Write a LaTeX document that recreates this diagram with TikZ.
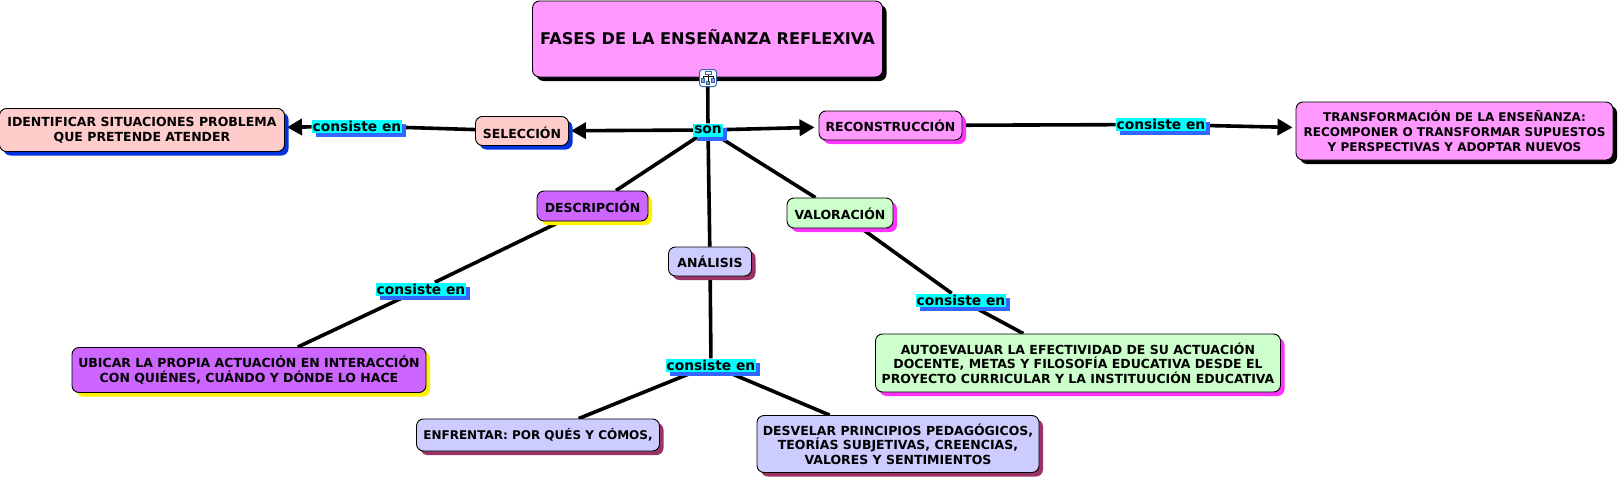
\documentclass[tikz,border=0pt]{standalone}
\usepackage{fontspec}
\setmainfont{DejaVu Sans}
\usetikzlibrary{arrows.meta,shadows,backgrounds}
\definecolor{cpink}{HTML}{FF99FF}
\definecolor{csalmon}{HTML}{FFCCCC}
\definecolor{cpurple}{HTML}{CC66FF}
\definecolor{cgreen}{HTML}{CCFFCC}
\definecolor{clav}{HTML}{CCCCFF}
\definecolor{sblue}{HTML}{0033DD}
\definecolor{smag}{HTML}{FF33FF}
\definecolor{sdark}{HTML}{993366}
\definecolor{lblue}{HTML}{3366FF}
\definecolor{lcyan}{HTML}{00FFFF}
\definecolor{iconblue}{HTML}{3366AA}
\newcommand{\shiftedtext}[2]{\raisebox{#1}[9pt][0pt]{#2}}
\tikzset{
  concept/.style={draw=black,line width=0.9pt,rounded corners=7pt,align=center,inner sep=0pt,
    font=\fontsize{12.5}{14.6}\selectfont\bfseries,execute at begin node={\vspace*{2pt}}},
  small/.style={font=\fontsize{12}{14.6}\selectfont\bfseries},
  shad/.style={general shadow={fill=#1,shadow xshift=4pt,shadow yshift=-4pt}},
  link/.style={font=\fontsize{13.8}{16}\selectfont\bfseries,fill=lcyan,inner xsep=0.8pt,inner ysep=0pt,
    minimum height=13pt,general shadow={fill=lblue,shadow xshift=4pt,shadow yshift=-4pt}},
  edge/.style={line width=3.6pt,black},
  arr/.style={line width=3.6pt,black,-{Triangle[length=15pt,width=16pt]}},
}
\begin{document}
\begin{tikzpicture}[x=1pt,y=-1pt]
\useasboundingbox (0,0) rectangle (1619,479);
% concepts: centre, size
\node[concept,shad=black,fill=cpink,minimum width=350pt,minimum height=76pt,font=\fontsize{16.15}{18}\selectfont\bfseries] (main) at (707.5,39) {\shiftedtext{-0.7pt}{FASES DE LA ENSEÑANZA REFLEXIVA}};
\node[concept,shad=sblue,fill=csalmon,minimum width=93pt,minimum height=29pt] (sel) at (522,131) {\shiftedtext{-3pt}{SELECCIÓN}};
\node[concept,shad=sblue,fill=csalmon,minimum width=285pt,minimum height=43pt] (ident) at (142,130) {IDENTIFICAR SITUACIONES PROBLEMA\\QUE PRETENDE ATENDER};
\node[concept,shad=smag,fill=cpink,minimum width=143pt,minimum height=29pt] (rec) at (890.5,125.5) {RECONSTRUCCIÓN};
\node[concept,small,shad=black,fill=cpink,minimum width=317pt,minimum height=58pt] (trans) at (1454.5,131) {TRANSFORMACIÓN DE LA ENSEÑANZA:\\RECOMPONER O TRANSFORMAR SUPUESTOS\\Y PERSPECTIVAS Y ADOPTAR NUEVOS};
\node[concept,shad=yellow,fill=cpurple,minimum width=111pt,minimum height=30pt] (desc) at (592.5,206) {\shiftedtext{-2pt}{DESCRIPCIÓN}};
\node[concept,shad=smag,fill=cgreen,minimum width=106pt,minimum height=30pt] (val) at (840,213) {\shiftedtext{-2pt}{VALORACIÓN}};
\node[concept,shad=sdark,fill=clav,minimum width=83pt,minimum height=29pt] (ana) at (710,261.5) {ANÁLISIS};
\node[concept,shad=yellow,fill=cpurple,minimum width=354pt,minimum height=45pt] (ubi) at (249,370) {UBICAR LA PROPIA ACTUACIÓN EN INTERACCIÓN\\CON QUIÉNES, CUÁNDO Y DÓNDE LO HACE};
\node[concept,small,shad=sdark,fill=clav,minimum width=243pt,minimum height=32pt] (enf) at (538,435) {ENFRENTAR: POR QUÉS Y CÓMOS,};
\node[concept,shad=sdark,fill=clav,minimum width=282pt,minimum height=57pt] (des) at (898,444) {DESVELAR PRINCIPIOS PEDAGÓGICOS,\\TEORÍAS SUBJETIVAS, CREENCIAS,\\VALORES Y SENTIMIENTOS};
\node[concept,shad=smag,fill=cgreen,minimum width=405pt,minimum height=58pt] (auto) at (1078,363) {AUTOEVALUAR LA EFECTIVIDAD DE SU ACTUACIÓN\\DOCENTE, METAS Y FILOSOFÍA EDUCATIVA DESDE EL\\PROYECTO CURRICULAR Y LA INSTITUUCIÓN EDUCATIVA};
% linking phrases
\node[link] (son) at (708,130) {son};
\node[link] (c1) at (357,126) {consiste en};
\node[link] (c2) at (1161,124.5) {consiste en};
\node[link] (c3) at (421,289) {consiste en};
\node[link] (c4) at (711,365) {consiste en};
\node[link] (c5) at (961,300) {consiste en};
% icon
\node[draw=iconblue,line width=1pt,fill=white,rounded corners=3pt,minimum width=17pt,minimum height=17pt,inner sep=0pt] (icon) at (708,78) {};
\draw[iconblue,fill=white,line width=0.7pt] (705,71.5) rectangle (711,74.5);
\draw[black,line width=0.6pt] (708,74.5)--(708,83) (703,78)--(703,76)--(713,76)--(713,78);
\draw[iconblue,fill=iconblue!60,line width=0.6pt] (701.5,78) rectangle (704.5,82.5) (711.5,78) rectangle (714.5,82.5) (706.5,81.5) rectangle (709.5,84);
% connectors
\begin{scope}[on background layer]
\draw[edge] (main) -- (son);
\draw[arr,shorten >=2pt] (son) -- (sel);
\draw[arr,shorten >=4pt] (son) -- (rec);
\draw[edge] (son) -- (desc);
\draw[edge] (son) -- (ana);
\draw[edge] (son) -- (val);
\draw[edge] (sel) -- (c1);
\draw[arr,shorten >=2pt] (c1) -- (ident);
\draw[edge] (rec) -- (c2);
\draw[arr,shorten >=3pt] (c2) -- (trans);
\draw[edge] (desc) -- (c3);
\draw[edge] (c3) -- (ubi);
\draw[edge] (ana) -- (c4);
\draw[edge] (c4) -- (enf);
\draw[edge] (c4) -- (des);
\draw[edge] (val) -- (c5);
\draw[edge] (c5) -- (auto);
\end{scope}
\end{tikzpicture}
\end{document}
